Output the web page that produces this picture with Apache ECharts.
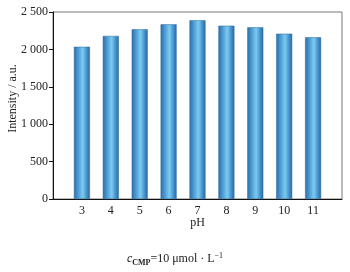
<!DOCTYPE html>
<html>
<head>
<meta charset="utf-8">
<script src="https://cdn.jsdelivr.net/npm/echarts@6/dist/echarts.min.js"></script>
<style>
  html, body { margin: 0; padding: 0; background: #fff; }
  #chart { width: 350px; height: 272px; }
</style>
</head>
<body>
<div id="chart"></div>
<script>
const phValues = [3, 4, 5, 6, 7, 8, 9, 10, 11]
const intensity = [2035, 2180, 2268, 2335, 2390, 2317, 2295, 2210, 2162]
const yTicks = [0, 500, 1000, 1500, 2000, 2500]

const font = '"Liberation Serif", "DejaVu Serif", serif'
const chart = echarts.init(document.getElementById('chart'))

// thousands with a space, like "2 500"
const fmt = (v) => (v >= 1000 ? Math.floor(v / 1000) + ' ' + String(v % 1000).padStart(3, '0') : String(v))

const barColor = new echarts.graphic.LinearGradient(0, 0, 1, 0, [
  { offset: 0, color: '#2f6ea5' },
  { offset: 0.18, color: '#3f8cc8' },
  { offset: 0.55, color: '#7ccbf2' },
  { offset: 0.85, color: '#3c87c2' },
  { offset: 1, color: '#2c6aa0' }
])

chart.setOption({
  animation: false,
  textStyle: { fontFamily: font },
  grid: {
    left: 53, right: 8, top: 12, bottom: 73,
    outerBoundsMode: 'none',
    containLabel: false,
    show: true, borderColor: '#7a7a7a', borderWidth: 1, backgroundColor: 'transparent'
  },
  title: {
    text: '{c|c}{s|CMP}{n|=10 μmol · L}{p|−1}',
    left: 'center',
    top: 246,
    textStyle: {
      fontWeight: 'normal',
      rich: {
        c: { fontFamily: font, fontStyle: 'italic', fontWeight: 'normal', fontSize: 12, color: '#222' },
        s: { fontFamily: font, fontWeight: 'bold', fontSize: 8, color: '#222', padding: [8, 0, 0, 0] },
        n: { fontFamily: font, fontWeight: 'normal', fontSize: 12, color: '#222' },
        p: { fontFamily: font, fontWeight: 'normal', fontSize: 8, color: '#222', padding: [0, 0, 7, 0] }
      }
    }
  },
  xAxis: {
    type: 'value',
    min: 2,
    max: 12,
    interval: 1,
    name: 'pH',
    nameLocation: 'middle',
    nameGap: 18,
    nameMoveOverlap: false,
    nameTextStyle: { fontFamily: font, fontSize: 12, color: '#222' },
    axisLine: { show: true, lineStyle: { color: '#111', width: 1 } },
    axisTick: { show: false },
    splitLine: { show: false },
    axisLabel: {
      fontFamily: font, fontSize: 12, color: '#222', margin: 6,
      formatter: (v) => (phValues.includes(v) ? String(v) : '')
    }
  },
  yAxis: {
    type: 'value',
    min: 0,
    max: 2500,
    interval: 500,
    name: 'Intensity / a.u.',
    nameLocation: 'middle',
    nameGap: 34,
    nameMoveOverlap: false,
    nameTextStyle: { fontFamily: font, fontSize: 12, color: '#222', padding: [0, 0, 0, 14] },
    axisLine: { show: true, lineStyle: { color: '#111', width: 1 } },
    axisTick: { show: true, inside: false, length: 4, lineStyle: { color: '#111' } },
    splitLine: { show: false },
    axisLabel: {
      fontFamily: font, fontSize: 12, color: '#222', margin: 5,
      formatter: (v) => (yTicks.includes(v) ? fmt(v) : '')
    }
  },
  series: [
    {
      type: 'bar',
      barWidth: 16,
      data: phValues.map((p, i) => [p, intensity[i]]),
      itemStyle: { color: barColor, borderColor: '#2d6a9f', borderWidth: 0.5 }
    }
  ]
})
</script>
</body>
</html>
